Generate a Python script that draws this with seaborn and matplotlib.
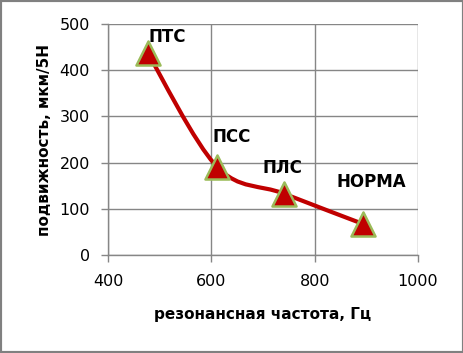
import numpy as np
import pandas as pd
import matplotlib
matplotlib.use("Agg")
import matplotlib.pyplot as plt
from matplotlib.path import Path
from matplotlib.patches import PathPatch, Rectangle
import seaborn as sns

# data
labels = ["ПТС", "ПСС", "ПЛС", "НОРМА"]
freq = [477, 611, 740, 894]
mobility = [437, 191, 133, 67]
x_ticks = [400, 600, 800, 1000]
y_ticks = [0, 100, 200, 300, 400, 500]

df = pd.DataFrame({"freq": freq, "mobility": mobility, "label": labels})

sns.set_theme(style="white")
plt.rcParams['font.family'] = ['DejaVu Sans']
plt.rcParams['text.color'] = 'black'
plt.rcParams['axes.labelcolor'] = 'black'

fig = plt.figure(figsize=(4.64, 3.53), dpi=100)
ax = fig.add_axes([108/464, 1 - 255/353, (418 - 108)/464, (255 - 24)/353])

# smooth line (Excel-like Catmull-Rom bezier through data points)
pts = np.column_stack([df["freq"].to_numpy(float), df["mobility"].to_numpy(float)])
sx, sy = 600.0, 500.0
p = pts / [sx, sy]
verts = [tuple(p[0])]
codes = [Path.MOVETO]
n = len(p)
t = 1 / 6
for i in range(n - 1):
    p0 = p[i - 1] if i > 0 else p[i]
    p1 = p[i]
    p2 = p[i + 1]
    p3 = p[i + 2] if i + 2 < n else p[i + 1]
    c1 = p1 + (p2 - p0) * t
    c2 = p2 - (p3 - p1) * t
    verts += [tuple(c1), tuple(c2), tuple(p2)]
    codes += [Path.CURVE4] * 3
verts = np.array(verts) * [sx, sy]
path = Path(verts, codes)
ax.add_patch(PathPatch(path, facecolor="none", edgecolor="#C00000", lw=3, zorder=3))

sns.scatterplot(data=df, x="freq", y="mobility", marker="^", s=300,
                color="#C00000", edgecolor="#9BBB59", linewidth=1.8, ax=ax, zorder=4)

offsets = {"ПТС": (515, 472), "ПСС": (639, 255), "ПЛС": (738, 188), "НОРМА": (909, 158)}
for lab in labels:
    ox, oy = offsets[lab]
    ax.text(ox, oy, lab, fontsize=12, fontweight="bold", ha="center", va="center",
            color="black", zorder=5)

ax.set_xlim(400, 1000)
ax.set_ylim(0, 500)
ax.set_xticks(x_ticks)
ax.set_yticks(y_ticks)
ax.grid(True, color="#868686", lw=1)
for s in ["top", "right"]:
    ax.spines[s].set_visible(False)
for s in ["left", "bottom"]:
    ax.spines[s].set_color("#868686")
    ax.spines[s].set_linewidth(1)
ax.tick_params(axis="both", which="both", direction="out", length=5, width=1,
               color="#868686", labelsize=11.5, labelcolor="black", bottom=True, left=True)
ax.tick_params(axis="x", pad=9)
ax.tick_params(axis="y", pad=8)
ax.set_xlabel("резонансная частота, Гц", fontsize=11, fontweight="bold", labelpad=13)
ax.set_ylabel("подвижность, мкм/5Н", fontsize=11, fontweight="bold", labelpad=5)
ax.set_axisbelow(True)

fig.patches.append(Rectangle((0, 0), 1, 1, transform=fig.transFigure, fill=False,
                             edgecolor="#808080", lw=3, zorder=10))

fig.savefig("out.png", dpi=100)
